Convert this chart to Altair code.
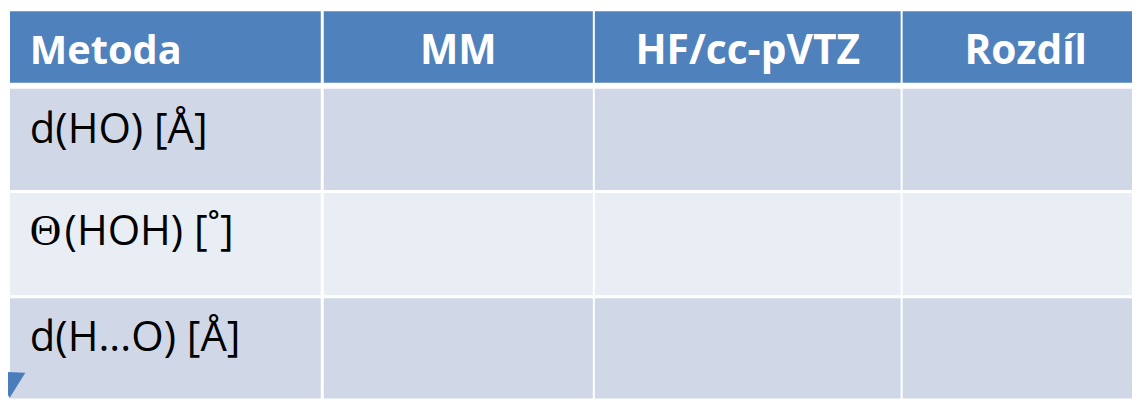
import altair as alt
import pandas as pd

# ---- data ----
columns = ["Metoda", "MM", "HF/cc-pVTZ", "Rozdíl"]
row_labels = ["d(HO) [Å]", "Θ(HOH) [˚]", "d(H...O) [Å]"]

# ---- layout (chart pixel coordinates) ----
W, H = 1132, 392
col_edges = [(2, 315), (318, 589), (591, 899), (901, 1160)]
row_edges = [(2, 74), (80, 182), (185, 288), (291, 410)]
header_baseline = 55
row_baselines = [135, 237, 344]
label_x = 22
col_centers = [None, 453.5, 745, 1025]
HEADER = "#4F81BD"
ODD = "#D0D8E8"
EVEN = "#E9EDF4"
ARROW = "#4A7EBB"

cells = []
for r, (y0, y1) in enumerate(row_edges):
    kind = "header" if r == 0 else ("odd" if r % 2 == 1 else "even")
    for c, (x0, x1) in enumerate(col_edges):
        cells.append({"x": x0, "x2": x1, "y": y0, "y2": y1, "kind": kind})
cells_df = pd.DataFrame(cells)

head_left_df = pd.DataFrame({"x": [label_x], "y": [header_baseline], "t": [columns[0]]})
head_center_df = pd.DataFrame({"x": col_centers[1:], "y": [header_baseline] * 3, "t": columns[1:]})

# split leading Greek symbol (drawn in a serif "symbol" face) from the rest
plain, sym = [], []
for lab, yb in zip(row_labels, row_baselines):
    if lab[0] == "Θ":
        sym.append({"x": label_x, "y": yb, "t": lab[0]})
        plain.append({"x": label_x + 35, "y": yb, "t": lab[1:]})
    else:
        plain.append({"x": label_x, "y": yb, "t": lab})
plain_df = pd.DataFrame(plain)
sym_df = pd.DataFrame(sym)

xs = alt.Scale(domain=[0, W], nice=False, zero=False)
ys = alt.Scale(domain=[0, H], reverse=True, nice=False, zero=False)
X = lambda: alt.X("x:Q", scale=xs, axis=None)
Y = lambda: alt.Y("y:Q", scale=ys, axis=None)

rects = alt.Chart(cells_df).mark_rect(clip=True).encode(
    x=X(), x2="x2:Q", y=Y(), y2="y2:Q",
    color=alt.Color("kind:N", scale=alt.Scale(domain=["header", "odd", "even"],
                                             range=[HEADER, ODD, EVEN]), legend=None),
)

head_left = alt.Chart(head_left_df).mark_text(
    font="Open Sans", fontSize=40, fontWeight="bold", color="white",
    align="left", baseline="alphabetic").encode(x=X(), y=Y(), text="t:N")

head_center = alt.Chart(head_center_df).mark_text(
    font="Open Sans", fontSize=41, fontWeight="bold", color="white",
    align="center", baseline="alphabetic").encode(x=X(), y=Y(), text="t:N")

labels = alt.Chart(plain_df).mark_text(
    font="Open Sans", fontSize=42, color="black",
    align="left", baseline="alphabetic").encode(x=X(), y=Y(), text="t:N")

symbols = alt.Chart(sym_df).mark_text(
    font="Liberation Serif", fontSize=44, color="black",
    align="left", baseline="alphabetic").encode(x=X(), y=Y(), text="t:N")

# arrow head peeking in at the bottom-left corner (clipped to the plot area)
head_pt = alt.Chart(pd.DataFrame({"x": [6], "y": [372]})).mark_point(
    shape="triangle-up", filled=True, size=900, angle=62, color=ARROW, opacity=1, clip=True
).encode(x=X(), y=Y())

chart = alt.layer(rects, head_left, head_center, labels, symbols, head_pt).properties(
    width=W, height=H, padding=0, background="white"
).configure_view(stroke=None)

chart.save("out.html", embed_options={"renderer": "svg", "actions": False})
